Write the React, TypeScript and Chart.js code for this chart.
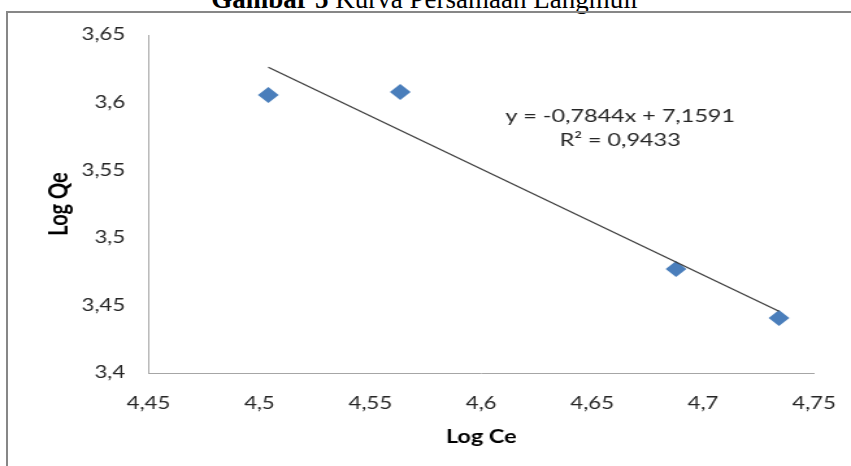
import { useEffect, useRef } from 'react';
import { Chart, registerables } from 'chart.js';

Chart.register(...registerables);

// ---- data ----
const LOG_CE = [4.504, 4.5635, 4.6878, 4.7342];
const LOG_QE = [3.6057, 3.6078, 3.477, 3.4407];
const X_TICKS = [4.45, 4.5, 4.55, 4.6, 4.65, 4.7, 4.75];
const X_TICK_LABELS = ['4,45', '4,5', '4,55', '4,6', '4,65', '4,7', '4,75'];
const Y_TICKS = [3.4, 3.45, 3.5, 3.55, 3.6, 3.65];
const Y_TICK_LABELS = ['3,4', '3,45', '3,5', '3,55', '3,6', '3,65'];
const TREND_SLOPE = -0.7844;
const TREND_INTERCEPT = 7.1591;
const EQUATION_LINES = ['y = -0,7844x + 7,1591', 'R\u00B2 = 0,9433'];
const EQ_X = 4.6626;
const EQ_Y = [3.59, 3.5723];

// canvas is drawn narrower and stretched horizontally, like the reference image
const CW = 655;
const CH = 466;
const STRETCH = 851 / CW;

export default function App() {
  const ref = useRef<HTMLCanvasElement>(null);

  useEffect(() => {
    const canvas = ref.current;
    if (!canvas) return;
    const xMin = Math.min(...LOG_CE);
    const xMax = Math.max(...LOG_CE);
    const trend = [
      { x: xMin, y: TREND_SLOPE * xMin + TREND_INTERCEPT },
      { x: xMax, y: TREND_SLOPE * xMax + TREND_INTERCEPT },
    ];
    const points = LOG_CE.map((x, i) => ({ x, y: LOG_QE[i] }));

    const eqPlugin = {
      id: 'eqLabel',
      afterDatasetsDraw(chart: any) {
        const { ctx, scales } = chart;
        ctx.save();
        ctx.font = '18px Lato';
        ctx.fillStyle = '#262626';
        ctx.textAlign = 'center';
        ctx.textBaseline = 'middle';
        EQUATION_LINES.forEach((t, i) => {
          ctx.fillText(t, scales.x.getPixelForValue(EQ_X), scales.y.getPixelForValue(EQ_Y[i]));
        });
        ctx.restore();
      },
    };

    const chart = new Chart(canvas, {
      type: 'scatter',
      data: {
        datasets: [
          {
            label: 'Trend',
            data: trend,
            showLine: true,
            borderColor: '#3c3c3c',
            borderWidth: 1.2,
            pointRadius: 0,
            order: 0,
          },
          {
            label: 'Log Qe',
            data: points,
            pointStyle: 'rectRot',
            pointRadius: 8,
            pointBackgroundColor: '#4a7ebb',
            pointBorderColor: '#4a7ebb',
            pointBorderWidth: 0,
            showLine: false,
            order: 1,
          },
        ],
      },
      options: {
        animation: false,
        responsive: false,
        layout: { padding: { left: 0, right: CW - 814 / STRETCH, top: 35, bottom: 0 } },
        plugins: {
          legend: { display: false },
          tooltip: { enabled: false },
        },
        scales: {
          x: {
            type: 'linear',
            min: 4.45,
            max: 4.75,
            afterBuildTicks: (s: any) => {
              s.ticks = X_TICKS.map((v) => ({ value: v }));
            },
            afterFit: (s: any) => {
              s.height = CH - 373;
              s.paddingLeft = 0;
              s.paddingRight = 0;
            },
            grid: { display: false, drawTicks: false },
            border: { display: true, color: '#a6a6a6', width: 1 },
            ticks: {
              padding: 20,
              autoSkip: false,
              maxRotation: 0,
              font: { family: 'Lato', size: 17 },
              color: '#262626',
              callback: (_v: any, i: number) => X_TICK_LABELS[i],
            },
            title: {
              display: true,
              text: 'Log Ce',
              font: { family: 'Lato', size: 18, weight: 'bold' },
              color: '#000',
              padding: { top: 0, bottom: 18 },
            },
          },
          y: {
            type: 'linear',
            min: 3.4,
            max: 3.65,
            afterBuildTicks: (s: any) => {
              s.ticks = Y_TICKS.map((v) => ({ value: v }));
            },
            afterFit: (s: any) => {
              s.width = 148.5 / STRETCH;
            },
            grid: { display: false, drawTicks: false },
            border: { display: true, color: '#a6a6a6', width: 1 },
            ticks: {
              padding: 18,
              autoSkip: false,
              font: { family: 'Lato', size: 17 },
              color: '#262626',
              callback: (_v: any, i: number) => Y_TICK_LABELS[i],
            },
            title: {
              display: true,
              text: 'Log Qe',
              font: { family: 'Lato', size: 20, weight: 'bold' },
              color: '#000',
              padding: { top: 34, bottom: 0 },
            },
          },
        },
      },
      plugins: [eqPlugin],
    } as any);

    return () => chart.destroy();
  }, []);

  return (
    <div
      style={{
        position: 'fixed',
        left: 0,
        top: 0,
        width: 851,
        height: 466,
        overflow: 'hidden',
        background: '#fff',
      }}
    >
      <div
        style={{
          position: 'absolute',
          left: 0,
          top: -14,
          width: 851,
          textAlign: 'center',
          fontFamily: '"Liberation Serif", "Times New Roman", serif',
          fontSize: 27,
          lineHeight: '26px',
          color: '#000',
          whiteSpace: 'nowrap',
        }}
      >
        <b>Gambar 5</b> Kurva Persamaan Langmuir
      </div>
      <div
        style={{
          position: 'absolute',
          left: 6,
          top: 11,
          width: 851,
          height: 466,
          borderLeft: '2px solid #878787',
          borderTop: '2px solid #878787',
        }}
      />
      <div
        style={{
          position: 'absolute',
          left: 0,
          top: 0,
          width: CW,
          height: CH,
          transform: `scaleX(${STRETCH})`,
          transformOrigin: '0 0',
        }}
      >
        <canvas ref={ref} width={CW} height={CH} style={{ display: 'block' }} />
      </div>
    </div>
  );
}
